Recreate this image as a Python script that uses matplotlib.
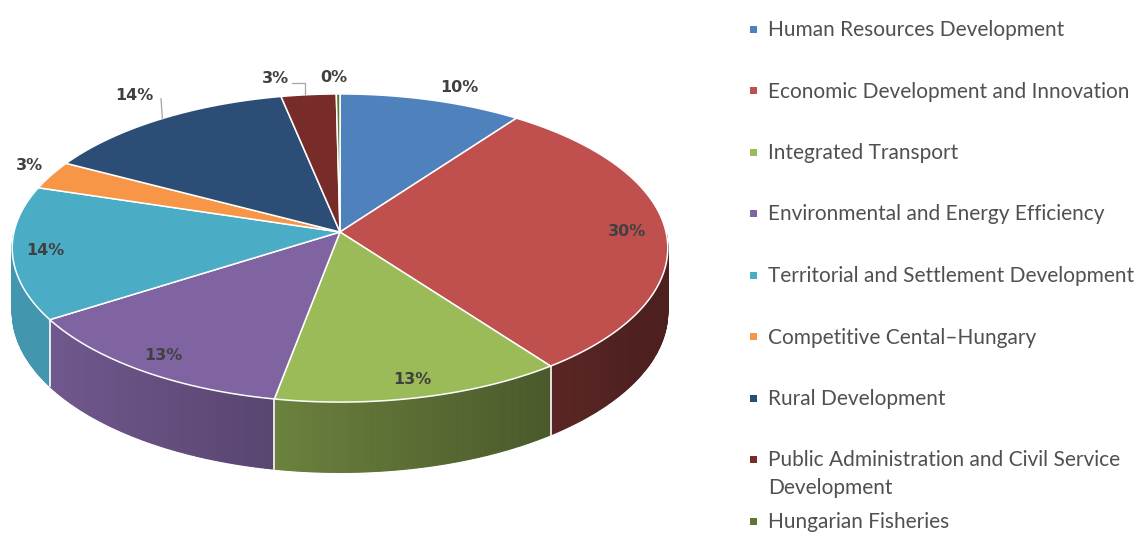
import numpy as np
import matplotlib
matplotlib.use("Agg")
import matplotlib.pyplot as plt
from matplotlib.patches import Polygon, Rectangle
from matplotlib.colors import to_rgb

categories = [
    "Human Resources Development",
    "Economic Development and Innovation",
    "Integrated Transport",
    "Environmental and Energy Efficiency",
    "Territorial and Settlement Development",
    "Competitive Cental\u2013Hungary",
    "Rural Development",
    "Public Administration and Civil Service\nDevelopment",
    "Hungarian Fisheries",
]
values = [10, 30, 13, 13, 14, 3, 14, 3, 0.2]
colors = ["#4F81BD", "#C0504D", "#9BBB59", "#8064A2", "#4BACC6",
          "#F79646", "#2C4D75", "#772C2A", "#5F7530"]

# label placement style (radius factor, pixel nudges)
label_r = [1.12, 0.88, 0.9, 0.9, 0.9, 1.08, 1.18, 1.13, 1.13]
label_dx = [18, 0, 0, 0, 0, 0, 3, -29, -4]
label_dy = [2, 0, 0, 0, 0, -5, -5, 0, 0]

W, H = 1142, 533
fig = plt.figure(figsize=(W / 100, H / 100), dpi=100)
ax = fig.add_axes([0, 0, 1, 1])
ax.set_xlim(0, W)
ax.set_ylim(H, 0)
ax.axis("off")

cx, cy, a, b, k, dep = 340, 232, 326, 152.4, 0.104, 63


def proj(theta, r=1.0):
    t = np.radians(theta)
    X = r * np.sin(t)
    Z = r * np.cos(t)
    d = 1 + k * Z
    return cx + a * X / d, cy - b * Z / d


def depth(theta):
    Z = np.cos(np.radians(theta))
    return dep / (1 + k * Z)


def shade(col, theta):
    X = np.sin(np.radians(theta))
    f = max(0.40, min(0.88, 0.64 - 0.28 * X))
    return tuple(np.array(to_rgb(col)) * f)


total = sum(values)
angles = np.cumsum([0] + [v / total * 360 for v in values])

# side faces
for i, col in enumerate(colors):
    s, e = angles[i], angles[i + 1]
    s2, e2 = max(s, 90), min(e, 270)
    if e2 <= s2:
        continue
    ths = np.linspace(s2, e2, max(2, int((e2 - s2) * 2) + 1))
    for t0, t1 in zip(ths[:-1], ths[1:]):
        x0, y0 = proj(t0)
        x1, y1 = proj(t1)
        c = shade(col, (t0 + t1) / 2)
        ax.add_patch(Polygon([(x0, y0), (x1, y1), (x1, y1 + depth(t1)), (x0, y0 + depth(t0))],
                             closed=True, facecolor=c, edgecolor=c, lw=0.8, zorder=2))
# white separators on the side
for t in angles[1:-1]:
    if 90 < t < 270:
        x0, y0 = proj(t)
        ax.plot([x0, x0], [y0, y0 + depth(t)], color="white", lw=1.2, zorder=3)

# top faces
for i, col in enumerate(colors):
    s, e = angles[i], angles[i + 1]
    ths = np.linspace(s, e, max(2, int((e - s) * 2) + 2))
    pts = [(cx, cy)] + [proj(t) for t in ths]
    ax.add_patch(Polygon(pts, closed=True, facecolor=col, edgecolor="white",
                         lw=1.1, joinstyle="round", zorder=4))

# labels
for i, v in enumerate(values):
    mid = (angles[i] + angles[i + 1]) / 2
    x, y = proj(mid, label_r[i])
    x += label_dx[i]
    y += label_dy[i]
    ax.text(x, y, f"{round(v / total * 100):d}%", ha="center", va="center",
            fontsize=11.5, fontweight="bold", color="#404040",
            family="DejaVu Sans", zorder=6)

# leader lines (Rural Development, Public Administration)
mid = (angles[6] + angles[7]) / 2
ex, ey = proj(mid)
lx, ly = proj(mid, label_r[6])
lx += label_dx[6]
ly += label_dy[6]
ax.plot([lx + 27, ex + 2], [ly + 3, ey], color="#a6a6a6", lw=0.9, zorder=5)
mid = (angles[7] + angles[8]) / 2
ex, ey = proj(mid)
lx, ly = proj(mid, label_r[7])
lx += label_dx[7]
ly += label_dy[7]
ax.plot([lx + 16, ex - 4, ex - 4], [ly + 4, ly + 4, ey], color="#a6a6a6", lw=0.9, zorder=5)

# legend
leg_x, leg_y0, leg_dy = 753, 29, 61.5
fig.canvas.draw()
ren = fig.canvas.get_renderer()
probe = ax.text(0, 0, categories[0], fontsize=15, family="Lato")
wpx = probe.get_window_extent(ren).width
probe.remove()
fs = 15 * 297 / wpx
for i, (cat, col) in enumerate(zip(categories, colors)):
    y = leg_y0 + i * leg_dy
    ax.add_patch(Rectangle((leg_x - 3.5, y - 3.5), 7, 7, facecolor=col, edgecolor="none", zorder=5))
    ax.text(leg_x + 15, y - 9, cat, ha="left", va="top", fontsize=fs, family="Lato",
            color="#505050", linespacing=1.45, zorder=5)

fig.savefig("out.png", dpi=100, facecolor="white")
